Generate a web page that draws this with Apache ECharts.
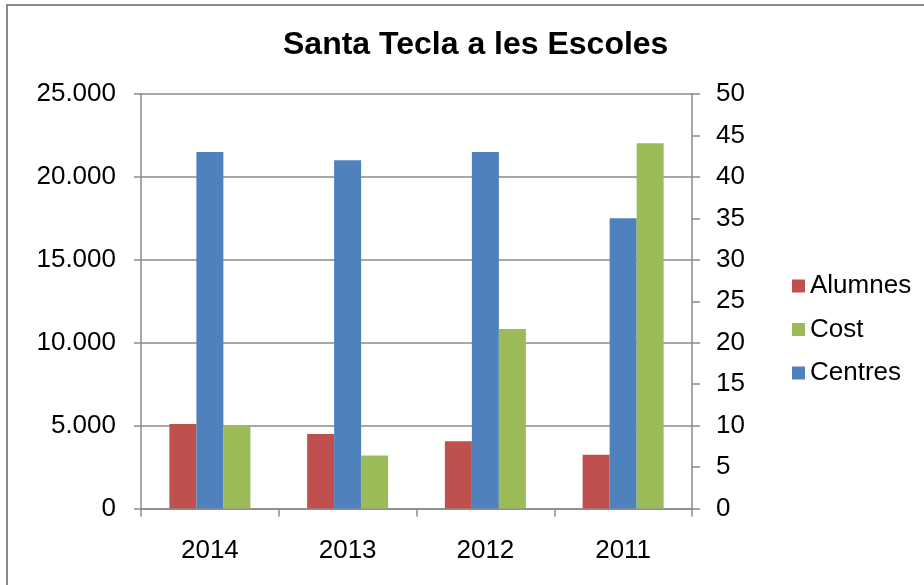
<!DOCTYPE html>
<html>
<head>
<meta charset="utf-8">
<script src="https://cdn.jsdelivr.net/npm/echarts@6/dist/echarts.min.js"></script>
<style>
  html, body { margin: 0; padding: 0; background: #fff; }
  #chart { width: 924px; height: 585px; }
</style>
</head>
<body>
<div id="chart"></div>
<script>
const years = ["2014", "2013", "2012", "2011"];
const alumnes = [5100, 4500, 4050, 3240];
const cost = [5000, 3200, 10830, 22030];
const centres = [43, 42, 43, 35];
const leftTickLabels = ["0", "5.000", "10.000", "15.000", "20.000", "25.000"];
const rightTickLabels = ["0", "5", "10", "15", "20", "25", "30", "35", "40", "45", "50"];

const font = "Liberation Sans, Arial, sans-serif";
const axisGrey = "#8a8a8a";

const myChart = echarts.init(document.getElementById("chart"));
myChart.setOption({
  animation: false,
  color: ["#C0504D", "#4F81BD", "#9BBB59"],
  // outer frame of the chart area (cut off at right and bottom)
  graphic: [
    {
      type: "rect",
      shape: { x: 7, y: 5, width: 1000, height: 1000 },
      style: { fill: "none", stroke: axisGrey, lineWidth: 2 },
      silent: true,
    },
  ],
  title: {
    text: "Santa Tecla a les Escoles",
    left: 278,
    top: 24,
    textStyle: {
      fontFamily: font,
      fontSize: 32,
      fontWeight: "bold",
      color: "#000",
    },
  },
  legend: {
    orient: "vertical",
    left: 787,
    top: 268,
    itemWidth: 13,
    itemHeight: 13,
    itemGap: 17.5,
    icon: "rect",
    data: ["Alumnes", "Cost", "Centres"],
    textStyle: { fontFamily: font, fontSize: 26, color: "#000" },
  },
  grid: {
    left: 141,
    right: 232,
    top: 94,
    bottom: 76.5,
    containLabel: false,
  },
  xAxis: {
    type: "category",
    data: years,
    axisLine: { show: true, lineStyle: { color: axisGrey, width: 1.5 } },
    axisTick: { show: true, length: 8, lineStyle: { color: axisGrey, width: 1.5 } },
    axisLabel: { margin: 29, fontFamily: font, fontSize: 26, color: "#000" },
  },
  yAxis: [
    {
      type: "value",
      min: 0,
      max: 25000,
      interval: 5000,
      axisLine: { show: true, lineStyle: { color: axisGrey, width: 1.5 } },
      axisTick: { show: true, length: 7, lineStyle: { color: axisGrey, width: 1.5 } },
      splitLine: { show: true, lineStyle: { color: axisGrey, width: 1.5 } },
      axisLabel: {
        margin: 25,
        fontFamily: font,
        fontSize: 26,
        color: "#000",
        formatter: (v) => leftTickLabels[Math.round(v / 5000)],
      },
    },
    {
      type: "value",
      min: 0,
      max: 50,
      interval: 5,
      position: "right",
      axisLine: { show: true, lineStyle: { color: axisGrey, width: 1.5 } },
      axisTick: { show: true, length: 8, lineStyle: { color: axisGrey, width: 1.5 } },
      splitLine: { show: false },
      axisLabel: {
        margin: 24,
        fontFamily: font,
        fontSize: 26,
        color: "#000",
        formatter: (v) => rightTickLabels[Math.round(v / 5)],
      },
    },
  ],
  series: [
    {
      name: "Alumnes",
      type: "bar",
      yAxisIndex: 0,
      barWidth: 27,
      barGap: "0%",
      data: alumnes,
    },
    {
      name: "Centres",
      type: "bar",
      yAxisIndex: 1,
      barWidth: 27,
      barGap: "0%",
      data: centres,
    },
    {
      name: "Cost",
      type: "bar",
      yAxisIndex: 0,
      barWidth: 27,
      barGap: "0%",
      data: cost,
    },
  ],
});
</script>
</body>
</html>
